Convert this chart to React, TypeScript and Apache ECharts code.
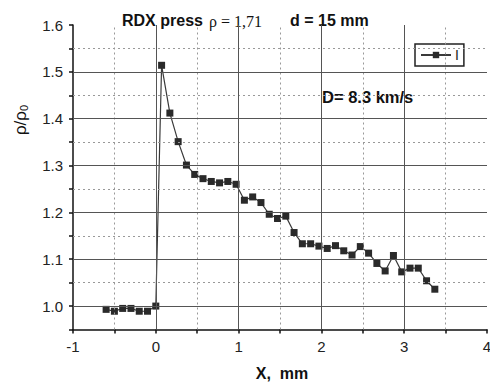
import React, { useEffect, useRef } from "react";
import * as echarts from "echarts";

const xValues = [
  -0.6, -0.5, -0.4, -0.3, -0.2, -0.1, 0,
  0.07, 0.17, 0.27, 0.37, 0.47, 0.57, 0.67, 0.77, 0.87, 0.97,
  1.07, 1.17, 1.27, 1.37, 1.47, 1.57, 1.67, 1.77, 1.87, 1.97,
  2.07, 2.17, 2.27, 2.37, 2.47, 2.57, 2.67, 2.77, 2.87, 2.97,
  3.07, 3.17, 3.27, 3.37,
];
const yValues = [
  0.993, 0.989, 0.995, 0.995, 0.989, 0.989, 1.0,
  1.514, 1.412, 1.351, 1.301, 1.281, 1.272, 1.266, 1.263, 1.266, 1.26,
  1.226, 1.233, 1.221, 1.196, 1.187, 1.192, 1.157, 1.133, 1.133, 1.128,
  1.123, 1.129, 1.118, 1.109, 1.127, 1.113, 1.091, 1.075, 1.108, 1.073,
  1.081, 1.081, 1.054, 1.036,
];
const seriesName = "I";
const majorY = [1.0, 1.1, 1.2, 1.3, 1.4, 1.5];
const minorY = [1.05, 1.15, 1.25, 1.35, 1.45, 1.55];
const majorX = [0, 1, 2, 3];
const minorX = [-0.5, 0.5, 1.5, 2.5, 3.5];

const FONT = "'Liberation Sans', Arial, sans-serif";

export default function App() {
  const ref = useRef<HTMLDivElement>(null);
  useEffect(() => {
    if (!ref.current) return;
    const chart = echarts.init(ref.current, null, { renderer: "svg" });
    const majorStyle = { color: "#555", width: 1, type: "solid" };
    const minorStyle = { color: "#999", width: 1, type: [2, 3] };
    const gridLines: any[] = [
      ...minorY.map((v) => ({ yAxis: v, lineStyle: minorStyle })),
      ...minorX.map((v) => ({ xAxis: v, lineStyle: minorStyle })),
      ...majorY.map((v) => ({ yAxis: v, lineStyle: majorStyle })),
      ...majorX.map((v) => ({ xAxis: v, lineStyle: majorStyle })),
    ];
    chart.setOption({
      animation: false,
      backgroundColor: "#fff",
      grid: {
        left: 73,
        right: 3,
        top: 25,
        bottom: 54.5,
        containLabel: false,
        outerBoundsMode: "none",
      },
      legend: {
        left: 415,
        top: 44,
        padding: [4, 5, 4, 5],
        borderColor: "#222",
        borderWidth: 1.5,
        itemWidth: 30,
        itemHeight: 8,
        itemGap: 4,
        data: [seriesName],
        textStyle: { fontFamily: FONT, fontSize: 14, color: "#222", padding: [0, 0, 0, -1] },
      },
      xAxis: {
        type: "value",
        min: -1,
        max: 4,
        interval: 0.5,
        axisLine: { show: true, onZero: false, lineStyle: { color: "#111", width: 1.5 } },
        axisTick: { show: true, length: 4, lineStyle: { color: "#111", width: 1.5 } },
        splitLine: { show: false },
        axisLabel: {
          margin: 9,
          fontFamily: FONT,
          fontSize: 15,
          color: "#222",
          formatter: (v: number) => (Math.abs(v - Math.round(v)) < 1e-6 ? String(Math.round(v)) : ""),
        },
      },
      yAxis: {
        type: "value",
        min: 0.95,
        max: 1.6,
        interval: 0.05,
        axisLine: { show: true, onZero: false, lineStyle: { color: "#111", width: 1.5 } },
        axisTick: { show: true, length: 4, lineStyle: { color: "#111", width: 1.5 } },
        splitLine: { show: false },
        axisLabel: {
          margin: 10,
          fontFamily: FONT,
          fontSize: 15,
          color: "#222",
          formatter: (v: number) => {
            const k = Math.round(v * 100);
            return k % 10 === 0 ? (k / 100).toFixed(1) : "";
          },
        },
      },
      graphic: [
        {
          type: "text",
          x: 122,
          y: 20,
          style: { text: "RDX press", fontFamily: FONT, fontWeight: "bold", fontSize: 16, fill: "#111", verticalAlign: "middle" },
        },
        {
          type: "text",
          x: 209,
          y: 21,
          style: { text: "ρ = 1,71", fontFamily: "'Liberation Serif', serif", fontSize: 16, fill: "#111", verticalAlign: "middle" },
        },
        {
          type: "text",
          x: 290,
          y: 20,
          style: { text: "d = 15 mm", fontFamily: FONT, fontWeight: "bold", fontSize: 16, fill: "#111", verticalAlign: "middle" },
        },
        {
          type: "text",
          x: 322,
          y: 97,
          style: { text: "D= 8.3 km/s", fontFamily: FONT, fontWeight: "bold", fontSize: 16.5, fill: "#111", verticalAlign: "middle" },
        },
        {
          type: "text",
          x: 282,
          y: 373,
          style: { text: "X,  mm", fontFamily: FONT, fontWeight: "bold", fontSize: 16, fill: "#111", align: "center", verticalAlign: "middle" },
        },
        {
          type: "text",
          x: 20,
          y: 120,
          rotation: Math.PI / 2,
          style: {
            text: "{a|ρ/ρ}{b|0}",
            align: "center",
            verticalAlign: "middle",
            fill: "#111",
            rich: {
              a: { fontFamily: FONT, fontSize: 17, fill: "#111" },
              b: { fontFamily: FONT, fontSize: 11, fill: "#111", padding: [8, 0, 0, 0] },
            },
          },
        },
      ],
      series: [
        {
          type: "line",
          name: "grid",
          data: [],
          z: 1,
          silent: true,
          markLine: {
            silent: true,
            symbol: ["none", "none"],
            label: { show: false },
            animation: false,
            data: gridLines,
          },
        },
        {
          type: "line",
          name: seriesName,
          z: 3,
          data: xValues.map((x, i) => [x, yValues[i]]),
          symbol: "rect",
          symbolSize: 7,
          showSymbol: true,
          itemStyle: { color: "#2a2a2a" },
          lineStyle: { color: "#3a3a3a", width: 1.2 },
        },
      ],
    });
    return () => chart.dispose();
  }, []);
  return (
    <div
      ref={ref}
      style={{ position: "fixed", left: 0, top: 0, width: 490, height: 384 }}
    />
  );
}
